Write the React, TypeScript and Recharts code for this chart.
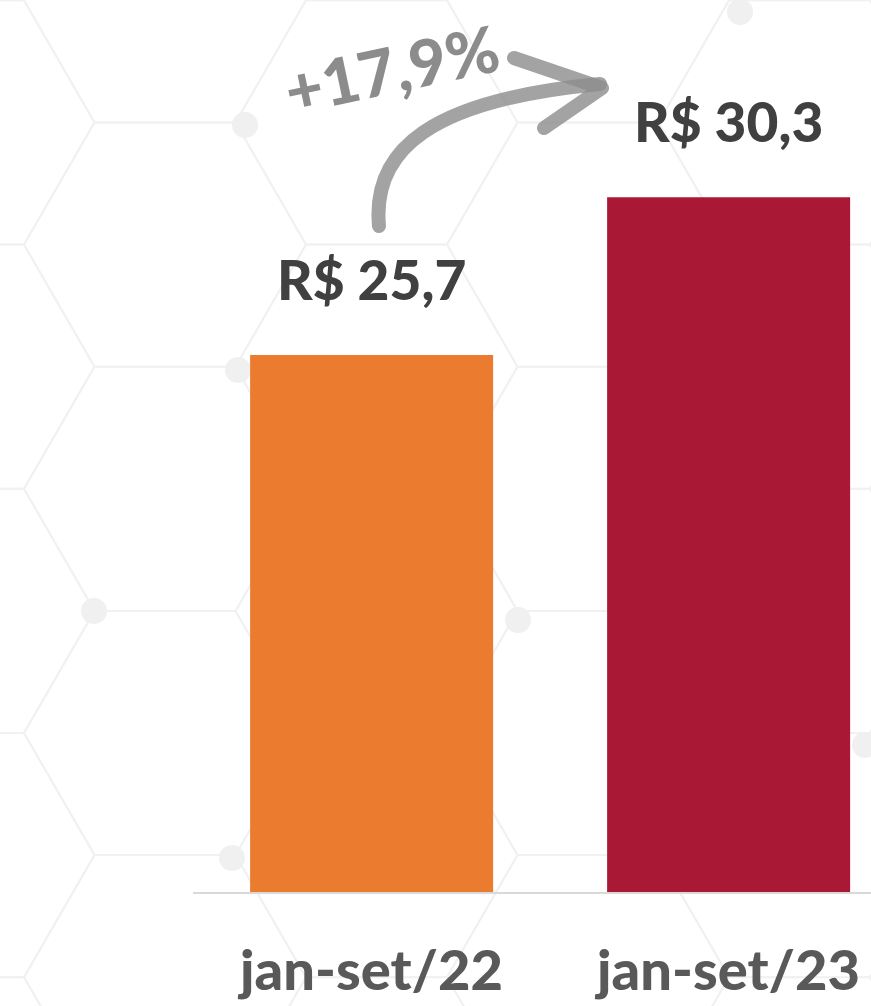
import React from "react";
import { BarChart, Bar, XAxis, YAxis, LabelList, Cell } from "recharts";

const periods = ["jan-set/22", "jan-set/23"];
const receita = [25.7, 30.3];
const barColors = ["#EB7B2E", "#A91834"];
const variacao = "+17,9%";

const data = periods.map((p, i) => ({ periodo: p, valor: receita[i] }));

const FONT = "Lato, 'Open Sans', sans-serif";

// faint honeycomb behind the chart
function Hexagons() {
  const s = 141;
  const h = s * Math.sqrt(3);
  const cells: JSX.Element[] = [];
  const dots: JSX.Element[] = [];
  for (let col = -1; col < 6; col++) {
    const cx = 165 + col * 1.5 * s;
    const off = col % 2 === 0 ? 0 : -h / 2;
    for (let row = -4; row < 3; row++) {
      const cy = 733 + off + row * h;
      const pts = [0, 60, 120, 180, 240, 300]
        .map((a) => {
          const r = (a * Math.PI) / 180;
          return `${cx + s * Math.cos(r)},${cy + s * Math.sin(r)}`;
        })
        .join(" ");
      cells.push(
        <polygon key={`${col}-${row}`} points={pts} fill="none" stroke="#f1f1f1" strokeWidth={2} />
      );
    }
  }
  const dotPts = [
    [94, 611],
    [232, 858],
    [518, 620],
    [245, 125],
    [740, 12],
    [238, 370],
    [865, 745],
  ];
  dotPts.forEach(([x, y], i) =>
    dots.push(<circle key={i} cx={x} cy={y} r={13} fill="#f0f0f0" />)
  );
  return (
    <svg width={871} height={1006} style={{ position: "absolute", left: 0, top: 0 }}>
      {cells}
      {dots}
    </svg>
  );
}

function Arrow() {
  return (
    <svg width={871} height={1006} style={{ position: "absolute", left: 0, top: 0, pointerEvents: "none" }}>
      <g stroke="#8c8c8c" strokeOpacity={0.8} strokeWidth={14} fill="none" strokeLinecap="round">
        <path d="M 379 226 C 372 150, 430 100, 600 84" />
        <path d="M 514 58 L 602 88 L 544 128" strokeLinejoin="round" />
      </g>
      <text
        x={392}
        y={93}
        transform="rotate(-12 392 70)"
        textAnchor="middle"
        fontFamily={FONT}
        fontWeight={900}
        fontSize={64}
        fill="#8c8c8c"
      >
        {variacao}
      </text>
    </svg>
  );
}

const ValueLabel = (props: any) => {
  const { x, y, width, value } = props;
  return (
    <text
      x={x + width / 2}
      y={y - 55}
      textAnchor="middle"
      fontFamily={FONT}
      fontWeight={900}
      fontSize={55}
      fill="#404040"
    >
      {`R$ ${String(value).replace(".", ",")}`}
    </text>
  );
};

const CategoryTick = (props: any) => {
  const { x, y, payload } = props;
  return (
    <text
      x={x}
      y={y + 89}
      textAnchor="middle"
      fontFamily={FONT}
      fontWeight={900}
      fontSize={56}
      fill="#595959"
    >
      {payload.value}
    </text>
  );
};

export default function App() {
  return (
    <div
      style={{
        position: "absolute",
        left: 0,
        top: 0,
        width: 871,
        height: 1006,
        overflow: "hidden",
        background: "#ffffff",
      }}
    >
      <Hexagons />
      <div style={{ position: "absolute", left: 0, top: 0 }}>
        <BarChart
          width={907}
          height={1006}
          data={data}
          margin={{ top: 2, right: 0, left: 193, bottom: 0 }}
          barCategoryGap="16%"
        >
          <XAxis
            dataKey="periodo"
            height={113}
            axisLine={{ stroke: "#d9d9d9", strokeWidth: 2 }}
            tickLine={false}
            tick={<CategoryTick />}
            interval={0}
          />
          <YAxis hide domain={[10, 36]} allowDataOverflow />
          <Bar dataKey="valor" isAnimationActive={false}>
            {data.map((d, i) => (
              <Cell key={d.periodo} fill={barColors[i]} />
            ))}
            <LabelList dataKey="valor" content={<ValueLabel />} />
          </Bar>
        </BarChart>
      </div>
      <Arrow />
    </div>
  );
}
